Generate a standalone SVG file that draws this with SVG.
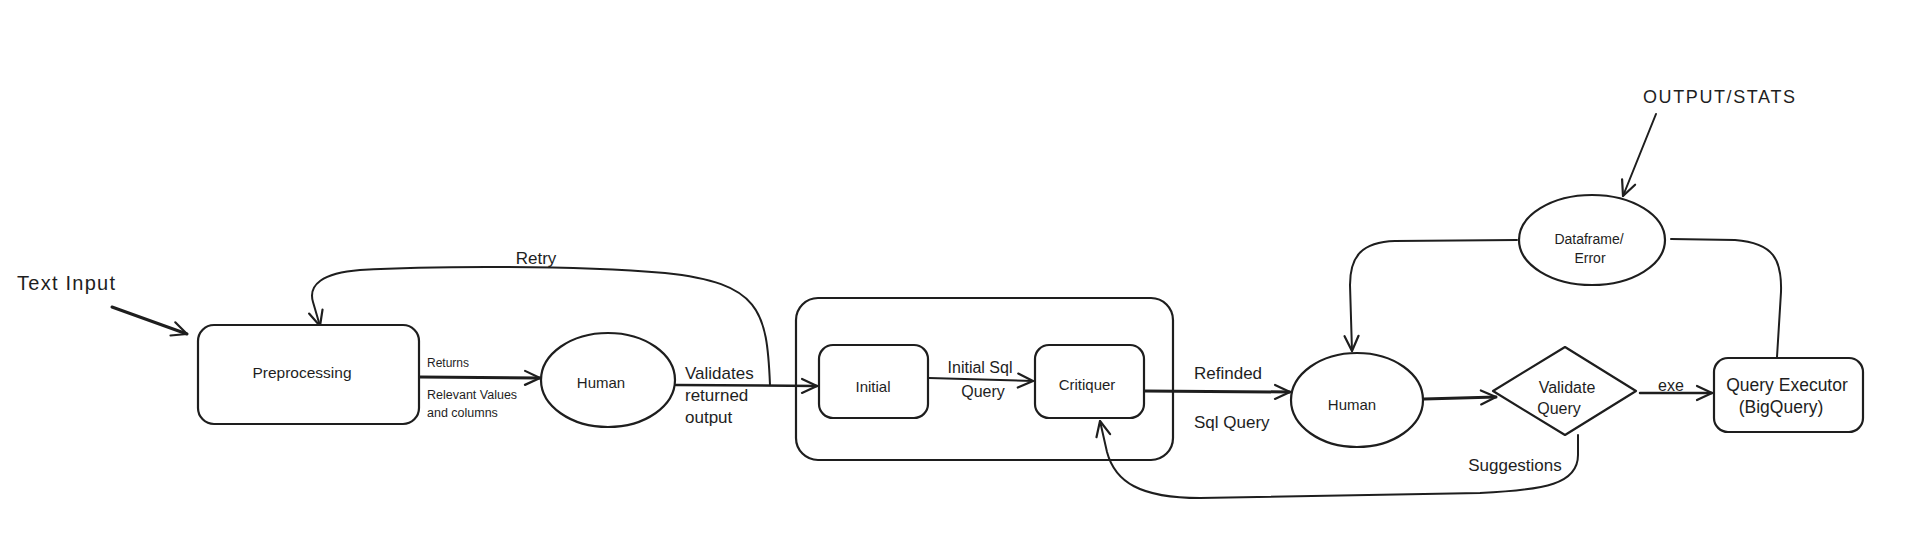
<svg xmlns="http://www.w3.org/2000/svg" width="1918" height="550" viewBox="0 0 1918 550">
<style>
.s{fill:none;stroke:#1e1e1e;stroke-width:2;stroke-linecap:round;stroke-linejoin:round}
.n{fill:#ffffff;stroke:#1e1e1e;stroke-width:2.2}
.c{fill:none;stroke:#1e1e1e;stroke-width:2;stroke-linecap:round}
.t{fill:#1e1e1e;font-family:"Liberation Sans","DejaVu Sans",sans-serif}
.m{text-anchor:middle}
</style>
<defs>
<marker id="ah" markerUnits="userSpaceOnUse" markerWidth="30" markerHeight="30" refX="0" refY="0" viewBox="-20 -15 30 30" orient="auto">
<path d="M -15 -7 L 0 0 L -15 7" fill="none" stroke="#1e1e1e" stroke-width="2.2" stroke-linecap="round" stroke-linejoin="round"/>
</marker>
</defs>
<rect width="1918" height="550" fill="#ffffff"/>

<g id="connectors">
<path class="c" style="stroke-width:3" d="M 112 307 L 187 334" marker-end="url(#ah)"/>
<path class="c" style="stroke-width:3" d="M 420 377 L 540 378" marker-end="url(#ah)"/>
<path class="c" style="stroke-width:2.5" d="M 676 385 L 817 386" marker-end="url(#ah)"/>
<path class="c" d="M 770 385 C 767 310 760 283 665 273 C 570 265 430 266 360 270 C 322 273 308 285 313 302 L 320 326" marker-end="url(#ah)"/>
<path class="c" d="M 929 378 L 1033 381" marker-end="url(#ah)"/>
<path class="c" style="stroke-width:3" d="M 1145 391 L 1290 392" marker-end="url(#ah)"/>
<path class="c" style="stroke-width:3" d="M 1424 399 L 1496 397" marker-end="url(#ah)"/>
<path class="c" style="stroke-width:2.5" d="M 1640 393 L 1712 393" marker-end="url(#ah)"/>
<path class="c" d="M 1578 435 L 1578 455 C 1578 484 1545 490 1480 493 L 1200 498 C 1140 498 1115 482 1107 452 L 1100 421" marker-end="url(#ah)"/>
<path class="c" d="M 1517 240 L 1395 241 C 1362 242 1350 256 1350 285 L 1352 351" marker-end="url(#ah)"/>
<path class="c" d="M 1671 239 L 1735 240 C 1774 243 1782 260 1781 292 L 1777 357"/>
<path class="c" d="M 1656 114 L 1623 196" marker-end="url(#ah)"/>
</g>

<g id="labels">
<text class="t" x="17" y="290" font-size="20" textLength="98">Text Input</text>
<text class="t" x="427" y="367" font-size="12">Returns</text>
<text class="t" x="427" y="399" font-size="12.5">Relevant Values</text>
<text class="t" x="427" y="417" font-size="12.5">and columns</text>
<text class="t" x="685" y="379" font-size="17">Validates</text>
<text class="t" x="685" y="401" font-size="17">returned</text>
<text class="t" x="685" y="423" font-size="17">output</text>
<text class="t m" x="536" y="264" font-size="17">Retry</text>
<text class="t m" x="980" y="373" font-size="16">Initial Sql</text>
<text class="t m" x="983" y="397" font-size="16">Query</text>
<text class="t" x="1194" y="379" font-size="17">Refinded</text>
<text class="t" x="1194" y="428" font-size="17">Sql Query</text>
<text class="t m" x="1515" y="471" font-size="17">Suggestions</text>
<text class="t m" x="1671" y="391" font-size="16">exe</text>
<text class="t m" x="1719" y="103" font-size="18" textLength="152">OUTPUT/STATS</text>
</g>

<g id="preprocessing">
<rect class="n" x="198" y="325" width="221" height="99" rx="16"/>
<text class="t m" x="302" y="378" font-size="15.5">Preprocessing</text>
</g>
<g id="human1">
<ellipse class="n" cx="608" cy="380" rx="67" ry="47"/>
<text class="t m" x="601" y="388" font-size="15">Human</text>
</g>
<g id="llm-group">
<rect class="n" x="796" y="298" width="377" height="162" rx="22" style="fill:none"/>
</g>
<g id="initial">
<rect class="n" x="819" y="345" width="109" height="73" rx="14"/>
<text class="t m" x="873" y="392" font-size="15">Initial</text>
</g>
<g id="critiquer">
<rect class="n" x="1035" y="345" width="109" height="73" rx="14"/>
<text class="t m" x="1087" y="390" font-size="15">Critiquer</text>
</g>
<g id="human2">
<ellipse class="n" cx="1357" cy="400" rx="66" ry="47"/>
<text class="t m" x="1352" y="410" font-size="15">Human</text>
</g>
<g id="validate-query">
<path class="n" d="M 1565 347 L 1636 391 L 1565 435 L 1493 391 Z" style="stroke-linejoin:round"/>
<text class="t m" x="1567" y="393" font-size="16">Validate</text>
<text class="t m" x="1559" y="414" font-size="16">Query</text>
</g>
<g id="query-executor">
<rect class="n" x="1714" y="358" width="149" height="74" rx="14"/>
<text class="t m" x="1787" y="391" font-size="17.5">Query Executor</text>
<text class="t m" x="1781" y="413" font-size="17.5">(BigQuery)</text>
</g>
<g id="dataframe-error">
<ellipse class="n" cx="1592" cy="240" rx="73" ry="45"/>
<text class="t m" x="1589" y="244" font-size="14">Dataframe/</text>
<text class="t m" x="1590" y="263" font-size="14">Error</text>
</g>
</svg>
